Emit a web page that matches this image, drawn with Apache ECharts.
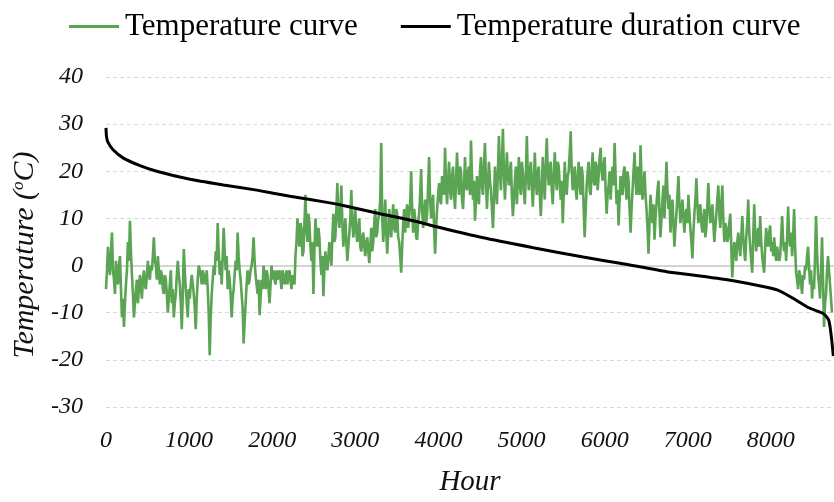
<!DOCTYPE html>
<html>
<head>
<meta charset="utf-8">
<script src="https://cdn.jsdelivr.net/npm/echarts@6/dist/echarts.min.js"></script>
<style>html,body{margin:0;padding:0;background:#fff}#c{width:834px;height:502px}</style>
</head>
<body>
<div id="c"></div>
<script>
// Temperature, every 12 hours
const HOUR_STEP = 12;
const tempValues = [
-5,-1, 4,0, -2,3, 7,-1, -3,-6, 1,-2, -4,0, 2,-5, -11,-7, -13,-8,
-4,-1, 5,1, 9.5,3, -2,-6, -11,-8, -5,-3, -8,-5, -2,-4, -7,-3, -1,-4,
-5,-2, 1,-2, -3,0, -1,2, 6,1, 0,-3, 2,-1, -4,-1, -2,-5, -6,-2,
-3,-6, -10,-7, -4,-1, -8,-5, -11,-8, -6,-2, 1,-2, -4,-8, -13.5,-6, 3.5,-1,
-5,-8, -11,-5, -7,-4, -2,-4, -6,-9, -13.5,-7, -3,0, -1,-2, -4,-1, -2,-4,
-3,-1, -5,-10, -19,-11, -6,-3, 0,-2, 3,1, 9,3, -2,1, -4,2, 8,3,
-1,2, -5,-1, -3,-6, -11,-7, -5,-2, 1,-1, 7,2, -1,-3, -6,-9, -16.5,-12,
-8,-4, -1,-4, -3,-1, 0,2, 6,1, -2,-4, -6,-3, -10.5,-7, -3,-5, 0,-2,
-5,-1, -2,-5, -8,-4, 0,-3, -1,-3, -4,-1, -3,-2, -1,-3, -5,-1, -2,-4,
-3,-1, -4,-2, -1,-3, -5,-2, -2,-4, 2,5, 10,6, 4,9, 8,2, 3,9,
15,8, 5,11, 9,4, 1,5, -6,3, 10,6, 4,8, 6,1, -2,2, -6.5,-1,
3,0, -1,2, 5,2, 0,6, 11,5, 6,12, 17.5,10, 8,12, 17,9, 4,7,
10,5, 1,4, 7,10, 16,9, 6,9, 12,7, 5,8, 10,4, 3,6, 7,4,
2,5, 6,3, 0.5,4, 8,3, 5,9, 12,6, 7,10, 11,14, 26,10, 5,9,
14,7, 2.5,7, 12,8, 6,10, 13,8, 7,12, 11,6, 5,2, -1.5,4, 9,12,
7,11, 13,8, 8,13, 20,12, 7,12, 10,6, 5.5,9, 11,15, 20.5,12, 8,11,
14,9, 11,17, 23,14, 10,13, 15,8, 2.5,8, 12,15, 17.5,14, 13,19, 18,15,
25,17, 13,18, 22,16, 14,19, 21,15, 12,18, 24,18, 15,21, 20,14, 12,17,
23,17, 16,20, 21,15, 26.5,19, 14,18, 9.5,14, 19,15, 13,20, 23,17, 15,21,
26,18, 12,17, 22,18, 16,12, 8,14, 21,17, 13,20, 27.5,20, 16,22, 29,20,
14,19, 24,19, 17,20, 22,15, 10.5,14, 18,21, 13,18, 23,17, 15,22, 20,16,
13,19, 27.5,19, 16,20, 22,17, 12.5,18, 24,18, 15,20, 21,15, 10.5,16, 23,18,
14,21, 27,20, 17,21, 22,16, 13,19, 24,19, 16,22, 21,17, 14,18, 9,15,
22,17, 15,19, 20,24, 28.5,20, 16,19, 21,16, 14,19, 22,17, 15,21, 19,12,
6,12, 17,20, 22,16, 15,20, 24,18, 17,22, 21,16, 19,23, 25,20, 18,21,
23,16, 11,15, 17,20, 14,18, 21,17, 26,19, 13,16, 8.5,14, 19,16, 15,20,
21,17, 14,20, 18,12, 7,12, 16,20, 24,18, 15,21, 19,15, 25.5,18, 14,17,
20,15, 12,8, 2.5,9, 15,12, 9,13, 5.5,10, 13,16, 18,11, 6,10, 14,17,
10,16, 22,16, 12,15, 7,11, 14,9, 4,8, 11,15, 19,13, 9,12, 14,10,
7,11, 12,9, 15,11, 8,5, 1.5,7, 11,14, 18.5,13, 9,12, 13,9, 7,10,
12,6, 8,13, 17.5,12, 9,11, 13,9, 5,8, 11,14, 17,11, 8,13, 17,10,
5,9, 8,5, 6,9, 11,4, -2.5,2, 5,3, 1,5, 7,4, 2,6, 10.5,6,
3,1, 6,9, 14,7, 4,1, -1.5,6, 13,7, 3,6, 8,4, 10.5,5, 2,0,
-1.5,4, 8,5, 4,7, 8.5,3, 5,2, 6,3, 1,4, 4,1, 2,6, 10.5,5,
3,5, 1,6, 12.5,6, 4,7, 2,6, 12,4, -1.5,-3, -5,-1, -2,-4, -6,-2,
-3,0, -1,2, 4,0, -4,-1, -7,-3, -5,2, 10.5,3, -2,-4, -7,-1, 6,-3,
-13,-8, -6,-1, 2,-1, -4,-7, -10
];
// Duration curve (sorted temperatures)
const durHours = [0,5,20,88,209,409,610,1010,1412,1813,2214,2695,2896,3297,3698,3940,4540,5142,5743,6185,6747,7148,7549,7950,8111,8311,8450,8552,8632,8692,8712,8732,8752];
const durTemps = [29.2,27.5,26.3,24.5,22.8,21.2,20.0,18.3,17.1,16.0,14.7,13.3,12.6,11.0,9.5,8.4,5.9,3.8,1.8,0.5,-1.3,-2.2,-3.2,-4.6,-5.4,-7.4,-8.9,-9.6,-10.2,-11.4,-12.9,-15.7,-19.2];
const yTicks = {min:-30, max:40, interval:10};
const xTicks = {min:0, max:8760, interval:1000};
const seriesNames = ['Temperature curve','Temperature duration curve'];

const tempData = tempValues.map((v,i)=>[i*HOUR_STEP, v]);
const durData = durHours.map((h,i)=>[h, durTemps[i]]);
const FONT = '"Liberation Serif", "DejaVu Serif", serif';

const chart = echarts.init(document.getElementById('c'), null, {renderer:'canvas'});
chart.setOption({
  animation:false,
  backgroundColor:'#fff',
  legend:{
    data:seriesNames,
    left:64, top:6,
    icon:'rect',
    itemWidth:50, itemHeight:3, itemGap:43,
    textStyle:{fontFamily:FONT, fontSize:31, color:'#000', padding:[0,0,0,1]}
  },
  grid:{left:106, right:0, top:77, bottom:95, containLabel:false},
  xAxis:[{
    type:'value', min:xTicks.min, max:xTicks.max, interval:xTicks.interval,
    axisLine:{show:false, onZero:false}, axisTick:{show:false}, splitLine:{show:false},
    axisLabel:{fontFamily:FONT, fontStyle:'italic', fontSize:24, color:'#111', margin:22, showMaxLabel:false,
      formatter:v=>String(v)},
    name:'Hour', nameLocation:'middle', nameGap:61,
    nameTextStyle:{fontFamily:FONT, fontStyle:'italic', fontSize:29, color:'#111'}
  },{
    type:'value', min:xTicks.min, max:xTicks.max, position:'bottom',
    axisLine:{show:true, onZero:true, lineStyle:{color:'#d4d4d4', width:2}},
    axisTick:{show:false}, axisLabel:{show:false}, splitLine:{show:false}
  }],
  yAxis:{
    type:'value', min:yTicks.min, max:yTicks.max, interval:yTicks.interval,
    axisLine:{show:false}, axisTick:{show:false},
    splitLine:{show:true, lineStyle:{color:'#d9d9d9', type:[4,3], width:1}},
    axisLabel:{fontFamily:FONT, fontStyle:'italic', fontSize:24, color:'#111', margin:23},
    name:'Temperature ({s|o}C)', nameLocation:'middle', nameGap:63,
    nameTextStyle:{fontFamily:FONT, fontStyle:'italic', fontSize:30, color:'#111', padding:[0,26,0,0],
      rich:{s:{fontFamily:FONT, fontStyle:'italic', fontSize:17, color:'#111', verticalAlign:'top', padding:[0,0,10,0]}}}
  },
  series:[{
    name:seriesNames[0], type:'line', xAxisIndex:0, data:tempData, symbol:'none', showSymbol:false,
    lineStyle:{color:'#5ba453', width:2.6}, itemStyle:{color:'#5ba453'}, z:2
  },{
    name:seriesNames[1], type:'line', xAxisIndex:0, data:durData, symbol:'none', showSymbol:false, smooth:0.2,
    lineStyle:{color:'#000', width:3}, itemStyle:{color:'#000'}, z:3
  }]
});
</script>
</body>
</html>
